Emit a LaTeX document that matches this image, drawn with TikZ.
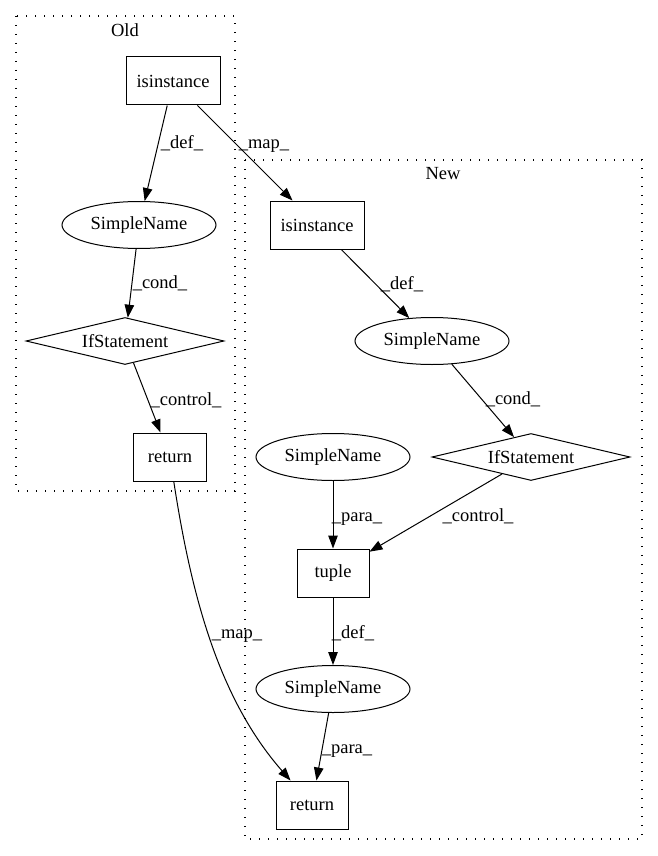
\documentclass[tikz,border=0pt]{standalone}
\usepackage{fontspec}
\setmainfont{Liberation Serif}
\usetikzlibrary{shapes.geometric,arrows.meta}
\tikzset{
  every node/.style={font=\fontsize{18.5}{21}\selectfont},
  box/.style={draw, rectangle, line width=1pt, inner sep=0pt, minimum width=94pt, minimum height=48pt},
  oval/.style={draw, ellipse, line width=1pt, inner sep=0pt, minimum width=154pt, minimum height=47pt},
  dia/.style={draw, diamond, line width=1pt, inner sep=0pt, aspect=4.2, minimum width=198pt, minimum height=47pt},
  lbl/.style={anchor=base, inner sep=0pt},
  conn/.style={line width=1pt, -{Triangle[length=13pt,width=9.5pt]}},
  clus/.style={line width=1.3pt, dash pattern=on 1.3pt off 7.7pt}
}
\begin{document}
\begin{tikzpicture}[x=1pt,y=-1pt]
\useasboundingbox (0,0) rectangle (657,856);
% clusters
\draw[clus] (16,16) rectangle (235,491);
\draw[clus] (245,160) rectangle (642,839);
\node (oldt) at (125,30) {Old};
\node (newt) at (443,174) {New};
% nodes
\node[box] (oi) at (173,81) {isinstance};
\node[oval] (osn) at (139,225) {SimpleName};
\node[dia] (oif) at (125,341) {IfStatement};
\node[box, minimum width=73pt] (oret) at (170,457) {return};
\node[box] (ni) at (317,225) {isinstance};
\node[oval] (nsn1) at (432,341) {SimpleName};
\node[dia] (nif) at (531,457) {IfStatement};
\node[oval] (nsn2) at (333,457) {SimpleName};
\node[box, minimum width=72pt] (tup) at (333,573) {tuple};
\node[oval] (nsn3) at (333,689) {SimpleName};
\node[box, minimum width=72pt] (nret) at (312,805) {return};
% edges
\draw[conn] (oi) -- (osn);
\draw[conn] (oi) -- (ni);
\draw[conn] (osn) -- (oif);
\draw[conn] (oif) -- (oret);
\draw[conn] (oret) .. controls (192,600) and (220,700) .. (nret);
\draw[conn] (ni) -- (nsn1);
\draw[conn] (nsn1) -- (nif);
\draw[conn] (nsn2) -- (tup);
\draw[conn] (nif) -- (tup);
\draw[conn] (tup) -- (nsn3);
\draw[conn] (nsn3) -- (nret);
% labels
\node[lbl] (l1) at (182,148) {\_def\_};
\node[lbl] (l2) at (264,148) {\_map\_};
\node[lbl] (l3) at (160,288) {\_cond\_};
\node[lbl] (l4) at (186,405) {\_control\_};
\node[lbl] (l5) at (402,289) {\_def\_};
\node[lbl] (l6) at (513,404) {\_cond\_};
\node[lbl] (l7) at (357,521) {\_para\_};
\node[lbl] (l8) at (478,521) {\_control\_};
\node[lbl] (l9) at (353,638) {\_def\_};
\node[lbl] (l10) at (347,753) {\_para\_};
\node[lbl] (l11) at (237,638) {\_map\_};
\end{tikzpicture}
\end{document}
